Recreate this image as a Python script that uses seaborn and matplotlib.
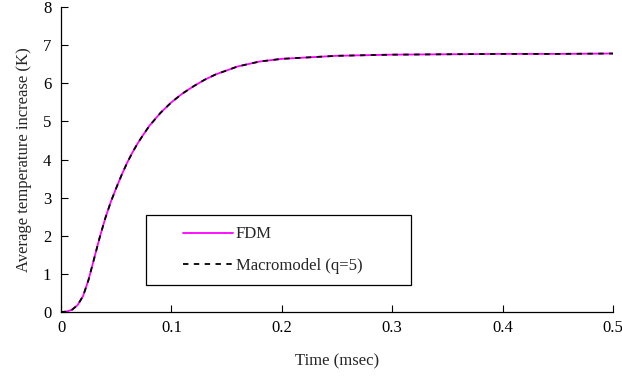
import pandas as pd
import matplotlib
matplotlib.use("Agg")
import matplotlib.pyplot as plt
from matplotlib.patches import Rectangle
import seaborn as sns

# time in msec, temperature increase in K
time_ms = [0.0, 0.005, 0.01, 0.015, 0.02, 0.025, 0.03, 0.035, 0.04, 0.045,
           0.05, 0.055, 0.06, 0.065, 0.07, 0.075, 0.08, 0.09, 0.1, 0.11,
           0.12, 0.13, 0.14, 0.16, 0.18, 0.2, 0.25, 0.3, 0.35, 0.4,
           0.45, 0.5]
fdm = [0.0, 0.01, 0.06, 0.18, 0.42, 0.85, 1.4, 1.95, 2.45, 2.88,
       3.25, 3.6, 3.92, 4.2, 4.45, 4.67, 4.88, 5.22, 5.5, 5.73,
       5.92, 6.09, 6.23, 6.44, 6.57, 6.64, 6.72, 6.75, 6.76, 6.77,
       6.77, 6.78]
macro = [0.0, 0.01, 0.06, 0.18, 0.42, 0.85, 1.4, 1.95, 2.45, 2.88,
         3.25, 3.6, 3.92, 4.2, 4.45, 4.67, 4.88, 5.22, 5.5, 5.73,
         5.92, 6.09, 6.23, 6.44, 6.57, 6.64, 6.72, 6.75, 6.76, 6.77,
         6.77, 6.78]

df = pd.DataFrame({"t": time_ms, "FDM": fdm, "Macro": macro})

sns.set_style("ticks")
plt.rcParams["font.family"] = ["Liberation Serif", "DejaVu Serif"]
plt.rcParams["font.size"] = 12

fig = plt.figure(figsize=(6.22, 3.76), dpi=100)
ax = fig.add_axes([61 / 622, 1 - 312 / 376, 552 / 622, 305 / 376])

sns.lineplot(data=df, x="t", y="FDM", ax=ax, color="#ff00ff", lw=1.3,
             label="FDM")
sns.lineplot(data=df, x="t", y="Macro", ax=ax, color="black", lw=1.3,
             linestyle=(0, (3, 3)), label="Macromodel (q=5)")

ax.set_xlim(0, 0.5)
ax.set_ylim(0, 8)
ax.set_xticks([0, 0.1, 0.2, 0.3, 0.4, 0.5])
ax.set_xticklabels(["0", "0.1", "0.2", "0.3", "0.4", "0.5"])
ax.set_yticks(range(0, 9))
ax.tick_params(direction="in", length=5, width=0.8, labelsize=12,
               colors="black")
ax.tick_params(axis="x", pad=6)
ax.tick_params(axis="y", pad=7)
for s in ["top", "right"]:
    ax.spines[s].set_visible(False)
for s in ["left", "bottom"]:
    ax.spines[s].set_color("black")
    ax.spines[s].set_linewidth(0.9)

ax.set_xlabel("Time (msec)", fontsize=12, labelpad=12)
ax.set_ylabel("Average temperature increase (K)", fontsize=12, labelpad=8)

# legend entries without frame, box drawn separately
leg = ax.legend(loc="center left", frameon=False,
                bbox_to_anchor=(183 / 622, 1 - 250 / 376),
                bbox_transform=fig.transFigure, fontsize=12,
                handlelength=3.0, handletextpad=0.15, labelspacing=0.9,
                borderpad=0, borderaxespad=0)
fig.add_artist(Rectangle((146 / 622, 1 - 285 / 376), 265 / 622, 70 / 376,
                         transform=fig.transFigure, fill=False,
                         edgecolor="black", lw=0.9))

fig.savefig("out.png", dpi=100)
